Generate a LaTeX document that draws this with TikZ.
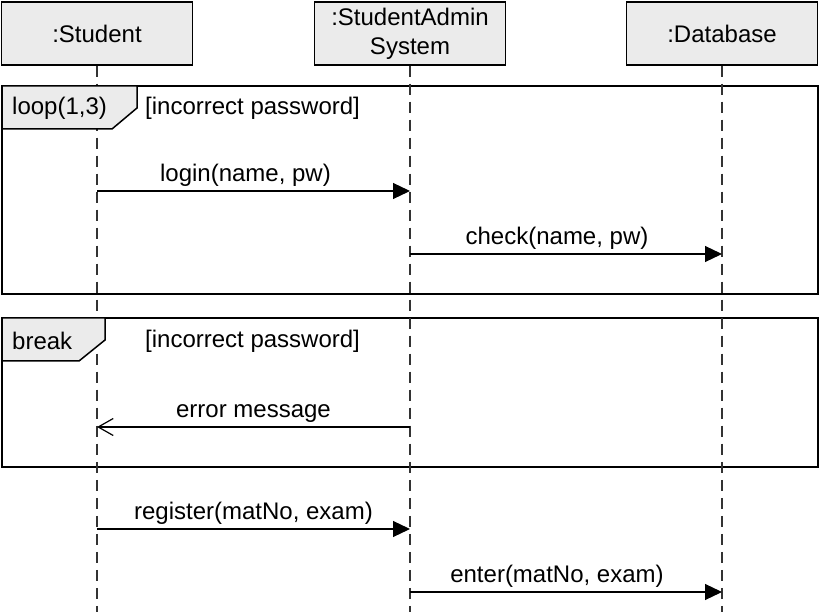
\documentclass[tikz,border=0pt]{standalone}
\usepackage{fontspec}
\setmainfont{Liberation Sans}
\usetikzlibrary{arrows.meta}
\definecolor{headgray}{HTML}{EBEBEB}
\definecolor{linegray}{HTML}{333333}
\begin{document}
\begin{tikzpicture}[x=1pt,y=-1pt,
  every node/.style={font=\fontsize{24}{29}\selectfont},
  headbox/.style={draw, line width=1.5pt, fill=headgray, minimum width=191pt, minimum height=63pt, inner sep=0pt, align=center},
  lifeline/.style={draw=linegray, line width=1.8pt, dash pattern=on 11pt off 7pt},
  frame/.style={draw, line width=1.5pt},
  tag/.style={draw, line width=1.5pt, fill=headgray},
  msg/.style={line width=1.2pt, -{Triangle[length=17pt,width=16pt]}},
  reply/.style={line width=1.2pt, -{Straight Barb[length=15pt,width=17pt]}},
  msglabel/.style={above=2pt, inner sep=2pt},
  plain/.style={inner sep=0pt, anchor=west},
]
\useasboundingbox (0,0) rectangle (820,612);

% lifeline heads
\node[headbox] (stu) at (97,33.5) {:Student};
\node[headbox] (sys) at (410,33.5) {:StudentAdmin\\System};
\node[headbox] (db) at (722,33.5) {:Database};

% lifeline ends
\coordinate (stuEnd) at (97,612);
\coordinate (sysEnd) at (410,612);
\coordinate (dbEnd) at (722,612);

% frames
\draw[frame] (2,86) rectangle (818,294);
\draw[frame] (2,318) rectangle (818,467);

% lifelines
\draw[lifeline] (stu.south) -- (stuEnd);
\draw[lifeline] (sys.south) -- (sysEnd);
\draw[lifeline] (db.south) -- (dbEnd);

% frame tags
\draw[tag] (2,86) -- (137,86) -- (137,108) -- (112,129) -- (2,129) -- cycle;
\node[plain] (looplbl) at (12,108.5) {loop(1,3)};
\node[plain] (loopguard) at (145,108.5) {[incorrect password]};

\draw[tag] (2,318) -- (105,318) -- (105,340) -- (79,361) -- (2,361) -- cycle;
\node[plain] (brklbl) at (12,341) {break};
\node[plain] (brkguard) at (145,341) {[incorrect password]};

% message points
\coordinate (s1) at (97,191);  \coordinate (y1) at (410,191);
\coordinate (y2) at (410,254); \coordinate (d2) at (722,254);
\coordinate (y3) at (410,427); \coordinate (s3) at (97,427);
\coordinate (s4) at (97,529);  \coordinate (y4) at (410,529);
\coordinate (y5) at (410,592); \coordinate (d5) at (722,592);

\draw[msg] (s1) -- node[msglabel, xshift=-8pt] (l1) {login(name, pw)} (y1);
\draw[msg] (y2) -- node[msglabel, xshift=-9pt] (l2) {check(name, pw)} (d2);
\draw[reply] (y3) -- node[msglabel] (l3) {error message} (s3);
\draw[msg] (s4) -- node[msglabel] (l4) {register(matNo, exam)} (y4);
\draw[msg] (y5) -- node[msglabel, xshift=-9pt] (l5) {enter(matNo, exam)} (d5);
\end{tikzpicture}
\end{document}
